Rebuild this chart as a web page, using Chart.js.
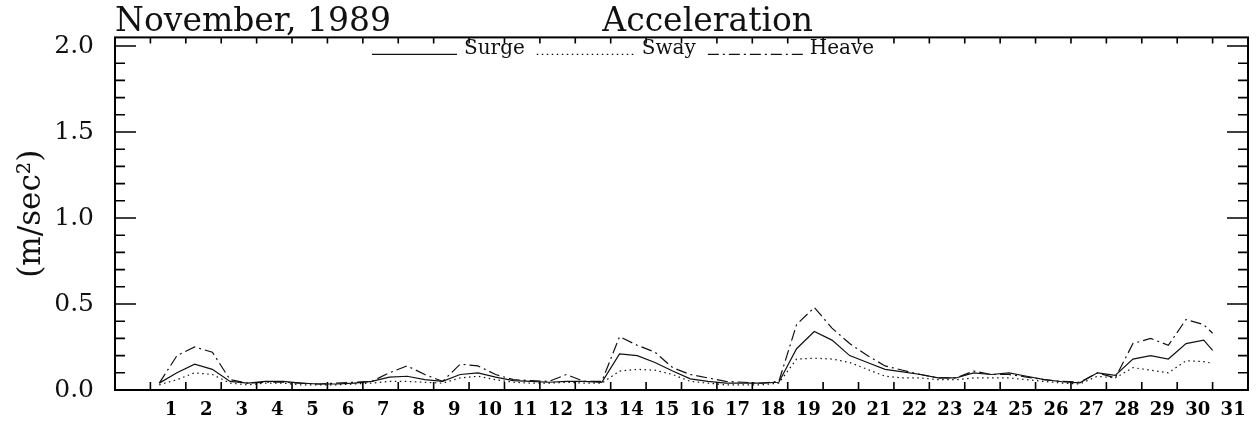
<!DOCTYPE html>
<html><head><meta charset="utf-8">
<script src="https://cdn.jsdelivr.net/npm/chart.js@4/dist/chart.umd.min.js"></script>
<style>html,body{margin:0;padding:0;background:#fff}</style>
</head><body>
<canvas id="c" width="1256" height="421"></canvas>
<script>
// sample times (days of November), every 12 h
const days = [];
for (let d = 1.25; d < 31; d += 0.5) days.push(d);
days.push(31);

const surge = [0.04,0.10,0.15,0.12,0.05,0.04,0.05,0.05,0.04,0.035,
  0.035,0.04,0.05,0.075,0.08,0.06,0.05,0.09,0.10,0.075,
  0.055,0.05,0.045,0.05,0.05,0.045,0.21,0.20,0.16,0.11,
  0.065,0.05,0.04,0.04,0.04,0.045,0.24,0.34,0.29,0.20,
  0.16,0.12,0.105,0.09,0.07,0.07,0.10,0.09,0.10,0.08,
  0.06,0.048,0.042,0.10,0.085,0.18,0.20,0.18,0.27,0.29,0.23];
const sway = [0.03,0.06,0.10,0.09,0.04,0.03,0.04,0.04,0.03,0.03,
  0.03,0.035,0.04,0.05,0.05,0.045,0.04,0.07,0.08,0.06,
  0.045,0.04,0.04,0.045,0.04,0.04,0.11,0.12,0.115,0.09,
  0.05,0.04,0.03,0.03,0.03,0.04,0.18,0.185,0.18,0.16,
  0.12,0.08,0.07,0.07,0.06,0.06,0.07,0.07,0.07,0.06,
  0.05,0.04,0.035,0.08,0.07,0.13,0.115,0.10,0.17,0.165,0.155];
const heave = [0.04,0.20,0.25,0.22,0.06,0.04,0.045,0.045,0.04,0.035,
  0.04,0.045,0.05,0.10,0.14,0.09,0.05,0.15,0.14,0.09,
  0.06,0.055,0.05,0.09,0.05,0.05,0.31,0.26,0.22,0.13,
  0.09,0.07,0.05,0.045,0.04,0.05,0.38,0.48,0.36,0.27,
  0.20,0.14,0.115,0.09,0.07,0.07,0.11,0.09,0.09,0.075,
  0.06,0.05,0.045,0.10,0.07,0.27,0.30,0.26,0.41,0.38,0.33];

const dayLabels = [];
for (let i = 1; i <= 31; i++) dayLabels.push(String(i));
const yTicks = [0, 0.5, 1.0, 1.5, 2.0];

const ink = '#111';
const serif = '"DejaVu Serif", "Liberation Serif", serif';

function series(label, vals, dash){
  return {label: label, data: days.map((d, i) => ({x: d, y: vals[i]})),
    borderColor: ink, borderWidth: 1.2, borderDash: dash, pointRadius: 0, tension: 0, fill: false};
}

// frame, inward tick marks and the line legend inside the plot
const legendLen = [85, 98, 95];
const framePlugin = {
  id: 'frame',
  afterDraw(chart){
    const ctx = chart.ctx, a = chart.chartArea;
    const xs = chart.scales.x, ys = chart.scales.y;
    ctx.save();
    ctx.strokeStyle = '#000';
    ctx.lineWidth = 2;
    ctx.strokeRect(a.left, a.top, a.right - a.left, a.bottom - a.top);
    ctx.lineWidth = 1.6;
    ctx.beginPath();
    for (let k = 0; k <= 20; k++) {
      const py = ys.getPixelForValue(k / 10);
      const len = k % 5 === 0 ? 21 : 10;
      ctx.moveTo(a.left, py); ctx.lineTo(a.left + len, py);
      ctx.moveTo(a.right, py); ctx.lineTo(a.right - len, py);
    }
    for (let d = 1; d <= 31; d++) {
      const px = xs.getPixelForValue(d);
      ctx.moveTo(px, a.bottom); ctx.lineTo(px, a.bottom - 8);
      ctx.moveTo(px, a.top); ctx.lineTo(px, a.top + 6);
    }
    ctx.stroke();

    // legend
    ctx.font = '20px ' + serif;
    ctx.textBaseline = 'alphabetic';
    ctx.fillStyle = ink;
    let x = 372;
    const y = a.top + 17;
    chart.data.datasets.forEach((ds, i) => {
      ctx.strokeStyle = ds.borderColor;
      ctx.lineWidth = ds.borderWidth;
      ctx.setLineDash(ds.borderDash || []);
      ctx.beginPath(); ctx.moveTo(x, y); ctx.lineTo(x + legendLen[i], y); ctx.stroke();
      ctx.setLineDash([]);
      x += legendLen[i] + 7;
      ctx.fillText(ds.label, x, y);
      x += ctx.measureText(ds.label).width + 12;
    });
    ctx.restore();
  }
};

new Chart(document.getElementById('c'), {
  type: 'line',
  data: {datasets: [
    series('Surge', surge, []),
    series('Sway', sway, [1.5, 3.5]),
    series('Heave', heave, [11, 4, 2, 4])
  ]},
  options: {
    responsive: false,
    animation: false,
    devicePixelRatio: 1,
    layout: {padding: {left: 0, right: 8, top: 0, bottom: 0}},
    plugins: {
      legend: {display: false},
      tooltip: {enabled: false},
      title: {display: true, text: 'November, 1989', align: 'start', fullSize: false,
        color: ink, font: {family: serif, size: 33, weight: 'normal', lineHeight: 1.2},
        padding: {top: 3, bottom: -5.2}},
      subtitle: {display: true, text: '     Acceleration', align: 'center', fullSize: false,
        color: ink, font: {family: serif, size: 33, weight: 'normal', lineHeight: 1.2},
        padding: {top: -34.4, bottom: -5.2}}
    },
    scales: {
      x: {
        type: 'linear', min: 0, max: 32,
        afterBuildTicks: s => { s.ticks = dayLabels.map((l, i) => ({value: i + 1.58})); },
        afterFit: s => { s.height = 31; },
        grid: {display: false},
        border: {display: false},
        ticks: {autoSkip: false, maxRotation: 0, padding: 2, color: '#000',
          font: {family: serif, size: 18, weight: 'bold'},
          callback: (v, i) => dayLabels[i]}
      },
      y: {
        min: 0, max: 2.05,
        afterBuildTicks: s => { s.ticks = yTicks.map(v => ({value: v})); },
        afterFit: s => { s.width = 115; },
        grid: {display: false},
        border: {display: false},
        ticks: {padding: 13, color: ink, font: {family: serif, size: 25},
          callback: v => v.toFixed(1)},
        title: {display: true, text: '(m/sec²)', color: ink,
          font: {family: serif, size: 31}, padding: {top: 13, bottom: 0}}
      }
    }
  },
  plugins: [framePlugin]
});
</script>
</body></html>
